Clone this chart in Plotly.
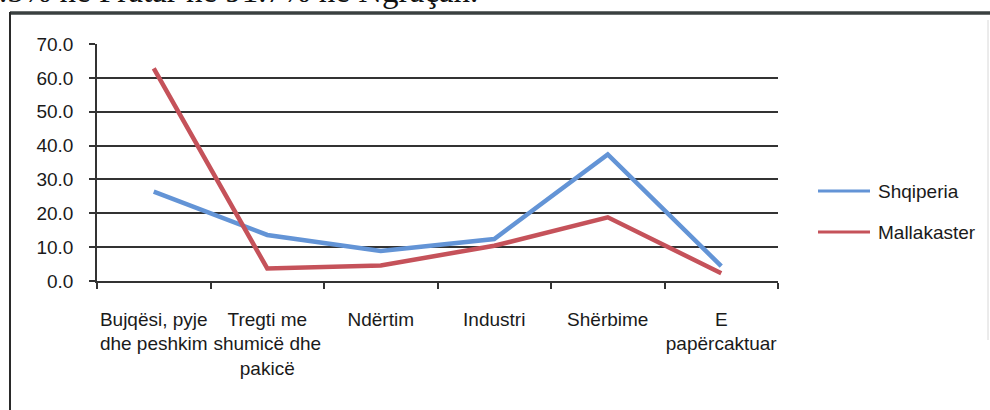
import plotly.graph_objects as go

# Employment share by sector (%)
sectors = [
    "Bujqësi, pyje<br>dhe peshkim",
    "Tregti me<br>shumicë dhe<br>pakicë",
    "Ndërtim",
    "Industri",
    "Shërbime",
    "E<br>papërcaktuar",
]
shqiperia = [26.4, 13.6, 8.9, 12.4, 37.4, 4.4]
mallakaster = [62.8, 3.7, 4.6, 10.4, 18.8, 2.3]

series_names = ["Shqiperia", "Mallakaster"]
series_colors = ["#6394D6", "#C5525A"]
y_ticks = [0, 10, 20, 30, 40, 50, 60, 70]

W, H = 990, 410
L, R, T, B = 97, 212, 44, 129
PW, PH = W - L - R, H - T - B


def px_x(px):
    return (px - L) / PW


def px_y(py):
    return (H - B - py) / PH


fig = go.Figure()
for name, vals, col in zip(series_names, [shqiperia, mallakaster], series_colors):
    fig.add_trace(go.Scatter(
        x=sectors, y=vals, name=name, mode="lines",
        line=dict(color=col, width=4.5),
        showlegend=False,
    ))

axis_font = dict(family="Liberation Sans, Arial, sans-serif", size=19, color="#1a1a1a")

fig.update_xaxes(
    type="category",
    range=[-0.5, len(sectors) - 0.5],
    tickson="boundaries",
    tickangle=0,
    automargin=False,
    ticks="outside", ticklen=6, tickwidth=1.5, tickcolor="#333",
    showline=True, linecolor="#333", linewidth=1.5,
    showgrid=False,
    tickfont=axis_font,
    ticklabelstandoff=20,
)
fig.update_yaxes(
    range=[0, 70],
    tickvals=y_ticks,
    ticktext=[f"{v:.1f}" for v in y_ticks],
    automargin=False,
    ticks="outside", ticklen=6, tickwidth=1.5, tickcolor="#333",
    showline=True, linecolor="#333", linewidth=1.5,
    showgrid=True, gridcolor="#333", gridwidth=1.5,
    zeroline=False,
    tickfont=axis_font,
    ticklabelstandoff=12,
)

shapes = []
annotations = []

# Legend entries
legend_rows = [191, 232]
for name, col, row in zip(series_names, series_colors, legend_rows):
    shapes.append(dict(type="line", xref="paper", yref="paper",
                       x0=px_x(818), x1=px_x(870), y0=px_y(row), y1=px_y(row),
                       line=dict(color=col, width=3)))
    annotations.append(dict(xref="paper", yref="paper", x=px_x(876), y=px_y(row),
                            xanchor="left", yanchor="middle", showarrow=False,
                            text=name, font=axis_font))

# Outer frame of the figure box
shapes.append(dict(type="line", xref="paper", yref="paper",
                   x0=px_x(10), x1=px_x(992), y0=px_y(13), y1=px_y(13),
                   line=dict(color="#3a4040", width=3.5)))
shapes.append(dict(type="line", xref="paper", yref="paper",
                   x0=px_x(10), x1=px_x(10), y0=px_y(12), y1=px_y(412),
                   line=dict(color="#2a2a2a", width=2)))
shapes.append(dict(type="line", xref="paper", yref="paper",
                   x0=px_x(988), x1=px_x(988), y0=px_y(20), y1=px_y(340),
                   line=dict(color="#d8d8d8", width=1)))

# Running text line above the box
annotations.append(dict(xref="paper", yref="paper", x=px_x(-3), y=px_y(-9),
                        xanchor="left", yanchor="middle", showarrow=False,
                        text=".5% në Fratar në 91.7% në Ngraçan.",
                        font=dict(family="Liberation Serif, Times New Roman, serif",
                                  size=33, color="#111")))

fig.update_layout(
    width=W, height=H,
    margin=dict(l=L, r=R, t=T, b=B, autoexpand=False),
    paper_bgcolor="white", plot_bgcolor="white",
    shapes=shapes, annotations=annotations,
    showlegend=False,
)

fig.write_html("out.html")
